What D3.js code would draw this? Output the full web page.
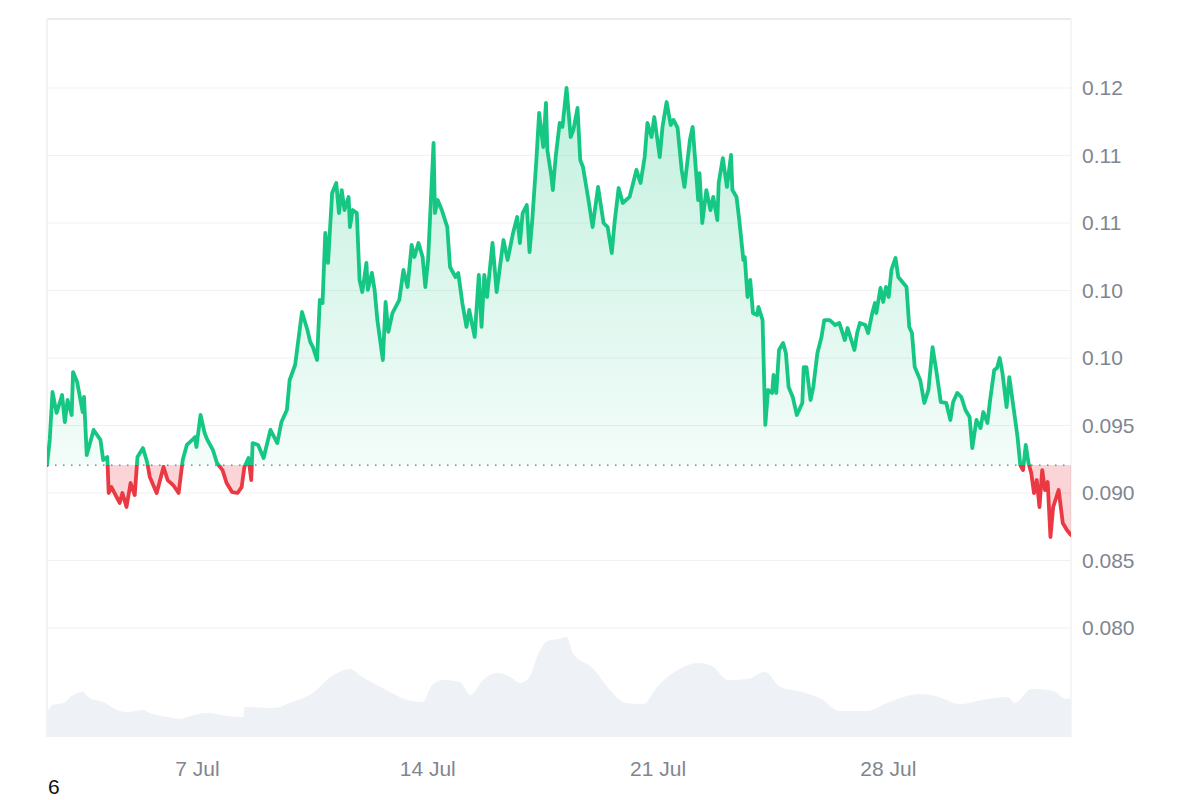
<!DOCTYPE html>
<html>
<head>
<meta charset="utf-8">
<script src="https://cdn.jsdelivr.net/npm/d3@7"></script>
<style>
  body { margin: 0; background: #fff; }
  svg text { font-family: "Liberation Sans", Arial, sans-serif; }
</style>
</head>
<body>
<div id="wrapper"></div>
<script>
// DATA
// price series: [hours since start, price]
const startTime = new Date(2024, 6, 2, 10, 36)
const pricePoints = [
  [0,.09207],[2,.09393],[4,.09748],[7,.09593],[11,.09726],[13,.09526],[15,.09689],[18,.09578],[19,.09896],[22,.09822],
  [26,.09600],[27,.09711],[29,.09281],[34,.09467],[39,.09393],[41,.09244],[44,.09267],[45,.09000],[47,.09044],[53,.08926],
  [55,.09000],[58,.08896],[61,.09074],[64,.08985],[66,.09267],[70,.09333],[73,.09230],[75,.09119],[80,.09000],[85,.09193],
  [88,.09096],[92,.09059],[96,.09000],[99,.09244],[102,.09356],[106,.09393],[108,.09415],[109,.09341],[112,.09578],[115,.09444],
  [117,.09393],[121,.09319],[124,.09222],[128,.09170],[131,.09074],[135,.09007],[139,.09000],[142,.09044],[144,.09193],[147,.09259],
  [149,.09096],[150,.09370],[154,.09356],[158,.09259],[163,.09467],[168,.09370],[171,.09526],[175,.09615],[177,.09837],[181,.09948],
  [186,.10341],[190,.10207],[192,.10119],[194,.10081],[197,.09985],[199,.10430],[201,.10407],[203,.10926],[205,.10704],[208,.11222],
  [211,.11296],[213,.11074],[215,.11244],[217,.11096],[220,.11193],[221,.10970],[223,.11096],[226,.11074],[228,.10578],[230,.10489],
  [233,.10704],[234,.10504],[237,.10630],[239,.10504],[241,.10281],[245,.09985],[247,.10415],[249,.10193],[252,.10333],[257,.10430],
  [260,.10652],[263,.10526],[266,.10837],[268,.10748],[271,.10852],[274,.10748],[276,.10526],[278,.10726],[282,.11593],[283,.11074],
  [285,.11170],[288,.11096],[292,.10970],[294,.10674],[298,.10600],[300,.10630],[303,.10407],[306,.10230],[308,.10356],[312,.10156],
  [315,.10615],[317,.10230],[319,.10615],[321,.10452],[325,.10852],[328,.10489],[333,.10874],[336,.10726],[340,.10926],[343,.11044],
  [345,.10852],[347,.11074],[350,.11133],[352,.10785],[354,.11022],[357,.11467],[359,.11815],[362,.11563],[364,.11889],[365,.11541],
  [368,.11341],[369,.11244],[371,.11481],[374,.11741],[376,.11711],[379,.12000],[382,.11637],[384,.11689],[387,.11852],[389,.11467],
  [391,.11415],[395,.11170],[398,.10970],[402,.11267],[406,.11000],[409,.10970],[412,.10778],[414,.11000],[417,.11259],[420,.11148],
  [425,.11193],[430,.11393],[433,.11296],[436,.11489],[438,.11741],[441,.11637],[443,.11785],[445,.11637],[447,.11489],[449,.11711],
  [452,.11896],[455,.11726],[457,.11763],[460,.11704],[463,.11393],[465,.11267],[469,.11615],[471,.11711],[473,.11444],[475,.11170],
  [476,.11370],[478,.11000],[481,.11244],[484,.11096],[486,.11193],[489,.11022],[490,.11296],[493,.11481],[496,.11267],[499,.11504],
  [500,.11244],[503,.11193],[505,.11022],[508,.10726],[509,.10748],[511,.10452],[513,.10578],[515,.10333],[518,.10319],[519,.10378],
  [522,.10281],[524,.09504],[526,.09763],[529,.09741],[530,.09874],[532,.09741],[534,.10059],[537,.10111],[539,.10037],[541,.09785],
  [544,.09711],[547,.09578],[551,.09667],[552,.09933],[554,.09933],[557,.09689],[559,.09785],[562,.10037],[565,.10156],[567,.10281],
  [571,.10281],[575,.10244],[578,.10259],[582,.10133],[584,.10222],[589,.10059],[591,.10185],[593,.10259],[597,.10244],[599,.10185],
  [602,.10333],[604,.10407],[605,.10333],[608,.10519],[610,.10415],[612,.10526],[614,.10452],[616,.10652],[619,.10741],[621,.10600],
  [624,.10563],[627,.10526],[629,.10230],[631,.10185],[633,.09933],[637,.09837],[640,.09667],[643,.09763],[646,.10081],[649,.09889],
  [652,.09674],[656,.09667],[659,.09541],[661,.09674],[664,.09741],[667,.09711],[670,.09615],[673,.09563],[675,.09333],[678,.09541],
  [681,.09481],[683,.09600],[686,.09519],[688,.09689],[691,.09911],[693,.09926],[695,.10000],[697,.09889],[700,.09637],[702,.09859],
  [705,.09637],[708,.09415],[710,.09207],[712,.09170],[714,.09356],[716,.09222],[718,.09148],[720,.09000],[722,.09096],[724,.08896],
  [726,.09170],[728,.09022],[730,.09081],[732,.08674],[734,.08896],[738,.09022],[741,.08778],[744,.08726],[747,.08689]
]

// volume series: [hours since start, volume (M)]
const volumePoints = [
  [0,6.25],[4,8.0],[12,8.5],[19,10.5],[26,11.25],[31,9.75],[41,8.75],[51,6.75],[58,6.25],[70,6.75],
  [75,6.0],[88,5.0],[97,4.5],[102,5.0],[117,6.0],[131,5.25],[143,5.0],[144,7.5],[165,7.25],[179,8.75],
  [194,11.0],[206,14.75],[221,17.0],[230,15.0],[238,13.5],[250,11.25],[263,9.25],[274,8.75],[281,13.0],[289,14.25],
  [301,13.75],[309,10.5],[318,14.25],[328,16.0],[338,15.0],[345,13.5],[352,15.0],[358,20.5],[365,24.0],[373,24.5],
  [379,25.0],[384,20.75],[398,17.25],[410,12.0],[422,8.5],[435,8.25],[445,12.5],[460,16.75],[475,18.5],[485,17.75],
  [497,14.25],[511,14.5],[524,16.25],[535,12.5],[551,11.25],[565,9.5],[578,6.5],[598,6.5],[613,8.5],[636,10.75],
  [648,10.25],[666,8.25],[686,9.5],[701,10.0],[706,8.5],[718,12.0],[734,11.5],[743,9.5],[747,9.75]
]

const yTickValues = [0.12, 0.115, 0.11, 0.105, 0.10, 0.095, 0.09, 0.085, 0.08]
const yTickLabels = ['0.12', '0.11', '0.11', '0.10', '0.10', '0.095', '0.090', '0.085', '0.080']
const xTickDates = [new Date(2024, 6, 7), new Date(2024, 6, 14), new Date(2024, 6, 21), new Date(2024, 6, 28)]
const xTickLabels = ['7 Jul', '14 Jul', '21 Jul', '28 Jul']
const cornerLabel = '6'

function drawChart() {
  const hourMs = 3600 * 1000
  const xAccessor = d => new Date(startTime.getTime() + d[0] * hourMs)
  const yAccessor = d => d[1]
  const baseline = pricePoints[0][1]

  // WRAPPER AND BOUNDS
  let dimensions = {
    width: 1200,
    height: 800,
    margin: { top: 19, right: 129, bottom: 63, left: 47 }
  }
  dimensions.boundedWidth = dimensions.width - dimensions.margin.left - dimensions.margin.right
  dimensions.boundedHeight = dimensions.height - dimensions.margin.top - dimensions.margin.bottom

  const wrapper = d3.select('#wrapper')
    .append('svg')
    .attr('width', dimensions.width)
    .attr('height', dimensions.height)

  const bounds = wrapper.append('g')
    .attr('transform', `translate(${dimensions.margin.left},${dimensions.margin.top})`)

  // SCALES
  const lastHour = pricePoints[pricePoints.length - 1][0]
  const xScale = d3.scaleTime()
    .domain([startTime, new Date(startTime.getTime() + lastHour * hourMs)])
    .range([0, dimensions.boundedWidth])

  const yScale = d3.scaleLinear()
    .domain([0.08, 0.12])
    .range([609, 69])

  const volScale = d3.scaleLinear()
    .domain([0, 25])
    .range([dimensions.boundedHeight, dimensions.boundedHeight - 100])

  const baseY = yScale(baseline)

  // defs: gradients + clips
  const defs = wrapper.append('defs')
  const greenGrad = defs.append('linearGradient')
    .attr('id', 'greenGrad')
    .attr('gradientUnits', 'userSpaceOnUse')
    .attr('x1', 0).attr('x2', 0)
    .attr('y1', yScale(0.12)).attr('y2', baseY)
  greenGrad.append('stop').attr('offset', '0%').attr('stop-color', '#16c784').attr('stop-opacity', 0.26)
  greenGrad.append('stop').attr('offset', '100%').attr('stop-color', '#16c784').attr('stop-opacity', 0.05)

  defs.append('clipPath').attr('id', 'clipAbove')
    .append('rect')
    .attr('x', 0).attr('y', 0)
    .attr('width', dimensions.boundedWidth).attr('height', baseY)
  defs.append('clipPath').attr('id', 'clipBelow')
    .append('rect')
    .attr('x', 0).attr('y', baseY)
    .attr('width', dimensions.boundedWidth).attr('height', dimensions.boundedHeight - baseY)

  // gridlines
  bounds.append('g')
    .selectAll('line')
    .data(yTickValues)
    .join('line')
    .attr('x1', 0)
    .attr('x2', dimensions.boundedWidth)
    .attr('y1', d => yScale(d))
    .attr('y2', d => yScale(d))
    .attr('stroke', '#f0f1f3')
    .attr('stroke-width', 1)

  // volume area
  const volumeArea = d3.area()
    .x(d => xScale(xAccessor(d)))
    .y0(dimensions.boundedHeight)
    .y1(d => volScale(d[1]))
    .curve(d3.curveMonotoneX)

  bounds.append('path')
    .attr('d', volumeArea(volumePoints))
    .attr('fill', '#eef1f6')

  // frame
  bounds.append('line')
    .attr('x1', 0).attr('x2', dimensions.boundedWidth)
    .attr('y1', 0).attr('y2', 0)
    .attr('stroke', '#e4e5e7').attr('stroke-width', 1.5)
  bounds.append('line')
    .attr('x1', 0).attr('x2', 0)
    .attr('y1', 0).attr('y2', dimensions.boundedHeight)
    .attr('stroke', '#f1f2f4').attr('stroke-width', 2)
  bounds.append('line')
    .attr('x1', dimensions.boundedWidth).attr('x2', dimensions.boundedWidth)
    .attr('y1', 0).attr('y2', dimensions.boundedHeight)
    .attr('stroke', '#f1f2f4').attr('stroke-width', 1.5)

  // price fill areas
  const areaGenerator = d3.area()
    .x(d => xScale(xAccessor(d)))
    .y0(baseY)
    .y1(d => yScale(yAccessor(d)))

  bounds.append('path')
    .attr('d', areaGenerator(pricePoints))
    .attr('fill', 'url(#greenGrad)')
    .attr('clip-path', 'url(#clipAbove)')

  bounds.append('path')
    .attr('d', areaGenerator(pricePoints))
    .attr('fill', '#ea3943')
    .attr('fill-opacity', 0.22)
    .attr('clip-path', 'url(#clipBelow)')

  // dotted baseline
  bounds.append('line')
    .attr('x1', 0).attr('x2', dimensions.boundedWidth)
    .attr('y1', baseY).attr('y2', baseY)
    .attr('stroke', '#6b6f78')
    .attr('stroke-width', 1.3)
    .attr('stroke-dasharray', '1.5 6.5')

  // price lines
  const lineGenerator = d3.line()
    .x(d => xScale(xAccessor(d)))
    .y(d => yScale(yAccessor(d)))

  bounds.append('path')
    .attr('d', lineGenerator(pricePoints))
    .attr('fill', 'none')
    .attr('stroke', '#16c784')
    .attr('stroke-width', 3.8)
    .attr('stroke-linejoin', 'round')
    .attr('stroke-linecap', 'round')
    .attr('clip-path', 'url(#clipAbove)')

  bounds.append('path')
    .attr('d', lineGenerator(pricePoints))
    .attr('fill', 'none')
    .attr('stroke', '#ea3943')
    .attr('stroke-width', 3.8)
    .attr('stroke-linejoin', 'round')
    .attr('stroke-linecap', 'round')
    .attr('clip-path', 'url(#clipBelow)')

  // AXES
  const yAxisGenerator = d3.axisRight(yScale)
    .tickValues(yTickValues)
    .tickFormat((d, i) => yTickLabels[i])
    .tickSize(0)
    .tickPadding(11)

  const yAxis = bounds.append('g')
    .attr('transform', `translate(${dimensions.boundedWidth},0)`)
    .call(yAxisGenerator)
  yAxis.select('.domain').remove()
  yAxis.selectAll('text')
    .attr('fill', '#80868f')
    .style('font-size', '21px')

  const xAxisGenerator = d3.axisBottom(xScale)
    .tickValues(xTickDates)
    .tickFormat((d, i) => xTickLabels[i])
    .tickSize(0)
    .tickPadding(24)

  const xAxis = bounds.append('g')
    .attr('transform', `translate(0,${dimensions.boundedHeight})`)
    .call(xAxisGenerator)
  xAxis.select('.domain').remove()
  xAxis.selectAll('text')
    .attr('fill', '#80868f')
    .style('font-size', '21px')

  wrapper.append('text')
    .attr('x', 48)
    .attr('y', 794)
    .attr('fill', '#111')
    .style('font-size', '21px')
    .text(cornerLabel)
}

drawChart()
</script>
</body>
</html>
